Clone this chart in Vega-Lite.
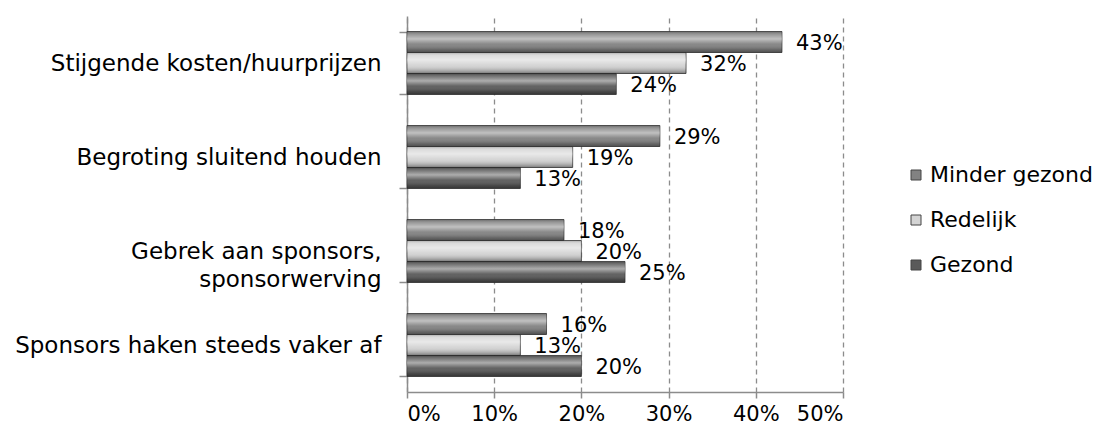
{
  "$schema": "https://vega.github.io/schema/vega-lite/v6.json",
  "width": 436,
  "height": 376,
  "autosize": "none",
  "padding": {"left": 407, "top": 16, "right": 259, "bottom": 47},
  "background": "white",
  "config": {
    "font": "DejaVu Sans",
    "view": {"stroke": null}
  },
  "data": {
    "values": [
      {"cat": "Stijgende kosten/huurprijzen", "serie": "Minder gezond", "v": 0.43},
      {"cat": "Stijgende kosten/huurprijzen", "serie": "Redelijk", "v": 0.32},
      {"cat": "Stijgende kosten/huurprijzen", "serie": "Gezond", "v": 0.24},
      {"cat": "Begroting sluitend houden", "serie": "Minder gezond", "v": 0.29},
      {"cat": "Begroting sluitend houden", "serie": "Redelijk", "v": 0.19},
      {"cat": "Begroting sluitend houden", "serie": "Gezond", "v": 0.13},
      {"cat": "Gebrek aan sponsors, sponsorwerving", "serie": "Minder gezond", "v": 0.18},
      {"cat": "Gebrek aan sponsors, sponsorwerving", "serie": "Redelijk", "v": 0.20},
      {"cat": "Gebrek aan sponsors, sponsorwerving", "serie": "Gezond", "v": 0.25},
      {"cat": "Sponsors haken steeds vaker af", "serie": "Minder gezond", "v": 0.16},
      {"cat": "Sponsors haken steeds vaker af", "serie": "Redelijk", "v": 0.13},
      {"cat": "Sponsors haken steeds vaker af", "serie": "Gezond", "v": 0.20}
    ]
  },
  "encoding": {
    "y": {
      "field": "cat", "type": "nominal", "sort": null,
      "scale": {"paddingInner": 0.33, "paddingOuter": 0.165},
      "axis": {
        "title": null, "domainColor": "#8c8c8c", "domainWidth": 1.5,
        "tickBand": "extent", "tickColor": "#8c8c8c", "tickSize": 8, "tickWidth": 1.5,
        "labelFontSize": 23, "labelColor": "#000", "labelPadding": 18,
        "labelLimit": 420, "labelLineHeight": 28,
        "labelExpr": "datum.value == 'Gebrek aan sponsors, sponsorwerving' ? ['Gebrek aan sponsors,', 'sponsorwerving'] : datum.value"
      }
    },
    "yOffset": {"field": "serie", "type": "nominal", "sort": ["Minder gezond", "Redelijk", "Gezond"]},
    "x": {
      "field": "v", "type": "quantitative",
      "scale": {"domain": [0, 0.5], "nice": false},
      "axis": {
        "title": null, "values": [0, 0.1, 0.2, 0.3, 0.4, 0.5],
        "format": ".0%",
        "labelFontSize": 21, "labelColor": "#000", "labelPadding": 5,
        "domainColor": "#8c8c8c", "domainWidth": 1.5,
        "tickColor": "#8c8c8c", "tickSize": 6, "tickWidth": 1.5,
        "grid": true, "gridColor": "#8c8c8c", "gridDash": [5, 4], "gridWidth": 1.3, "gridOpacity": 1
      }
    }
  },
  "layer": [
    {
      "mark": {"type": "bar", "stroke": "#3a3a3a", "strokeWidth": 0.8},
      "encoding": {
        "color": {
          "field": "serie", "type": "nominal",
          "sort": ["Minder gezond", "Redelijk", "Gezond"],
          "scale": {"domain": ["Minder gezond", "Redelijk", "Gezond"], "range": ["#828282", "#d4d4d4", "#5a5a5a"]},
          "legend": {
            "title": null, "orient": "none", "legendX": 498, "legendY": 148,
            "symbolType": "square", "symbolSize": 100, "symbolStrokeColor": "#444", "symbolStrokeWidth": 1,
            "symbolOpacity": 1, "labelLimit": 300,
            "labelFontSize": 22, "labelColor": "#000", "labelOffset": 3, "rowPadding": 23
          }
        }
      }
    },
    {
      "mark": {
        "type": "bar",
        "fill": {
          "gradient": "linear", "x1": 0, "y1": 0, "x2": 0, "y2": 1,
          "stops": [
            {"offset": 0, "color": "rgba(0,0,0,0.2)"},
            {"offset": 0.12, "color": "rgba(255,255,255,0.15)"},
            {"offset": 0.35, "color": "rgba(255,255,255,0.5)"},
            {"offset": 0.6, "color": "rgba(255,255,255,0.05)"},
            {"offset": 0.85, "color": "rgba(0,0,0,0.18)"},
            {"offset": 1, "color": "rgba(0,0,0,0.4)"}
          ]
        }
      },
      "encoding": {}
    },
    {
      "mark": {"type": "text", "align": "left", "baseline": "middle", "dx": 14, "dy": 2, "fontSize": 21, "color": "#000"},
      "encoding": {"text": {"field": "v", "type": "quantitative", "format": ".0%"}}
    }
  ]
}
